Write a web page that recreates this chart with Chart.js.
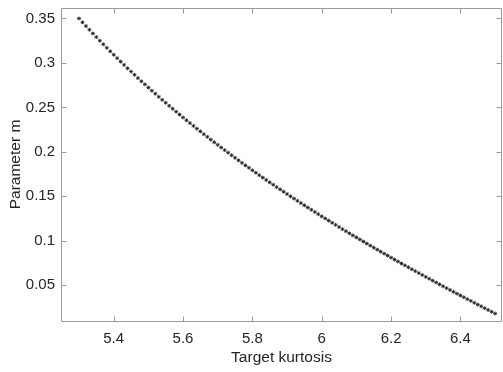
<!DOCTYPE html>
<html>
<head>
<meta charset="utf-8">
<script src="https://cdn.jsdelivr.net/npm/chart.js@4/dist/chart.umd.min.js"></script>
<style>
  body { margin: 0; background: #fff; }
  #wrap { width: 503px; height: 372px; }
</style>
</head>
<body>
<div id="wrap"><canvas id="kurtChart" width="503" height="372"></canvas></div>
<script>
// target kurtosis values
const kurtosis = [
  5.30, 5.31, 5.32, 5.33, 5.34, 5.35, 5.36, 5.37, 5.38, 5.39,
  5.40, 5.41, 5.42, 5.43, 5.44, 5.45, 5.46, 5.47, 5.48, 5.49,
  5.50, 5.51, 5.52, 5.53, 5.54, 5.55, 5.56, 5.57, 5.58, 5.59,
  5.60, 5.61, 5.62, 5.63, 5.64, 5.65, 5.66, 5.67, 5.68, 5.69,
  5.70, 5.71, 5.72, 5.73, 5.74, 5.75, 5.76, 5.77, 5.78, 5.79,
  5.80, 5.81, 5.82, 5.83, 5.84, 5.85, 5.86, 5.87, 5.88, 5.89,
  5.90, 5.91, 5.92, 5.93, 5.94, 5.95, 5.96, 5.97, 5.98, 5.99,
  6.00, 6.01, 6.02, 6.03, 6.04, 6.05, 6.06, 6.07, 6.08, 6.09,
  6.10, 6.11, 6.12, 6.13, 6.14, 6.15, 6.16, 6.17, 6.18, 6.19,
  6.20, 6.21, 6.22, 6.23, 6.24, 6.25, 6.26, 6.27, 6.28, 6.29,
  6.30, 6.31, 6.32, 6.33, 6.34, 6.35, 6.36, 6.37, 6.38, 6.39,
  6.40, 6.41, 6.42, 6.43, 6.44, 6.45, 6.46, 6.47, 6.48, 6.49,
  6.50
];

// parameter m for each kurtosis
const paramM = [
  0.3500, 0.3457, 0.3415, 0.3373, 0.3332, 0.3291, 0.3250, 0.3210, 0.3170, 0.3131,
  0.3092, 0.3054, 0.3015, 0.2978, 0.2940, 0.2903, 0.2867, 0.2830, 0.2794, 0.2759,
  0.2723, 0.2688, 0.2654, 0.2619, 0.2585, 0.2552, 0.2518, 0.2485, 0.2452, 0.2420,
  0.2387, 0.2355, 0.2324, 0.2292, 0.2261, 0.2230, 0.2199, 0.2169, 0.2138, 0.2108,
  0.2079, 0.2049, 0.2020, 0.1991, 0.1962, 0.1933, 0.1905, 0.1876, 0.1848, 0.1821,
  0.1793, 0.1765, 0.1738, 0.1711, 0.1684, 0.1657, 0.1631, 0.1604, 0.1578, 0.1552,
  0.1526, 0.1500, 0.1475, 0.1449, 0.1424, 0.1399, 0.1374, 0.1349, 0.1324, 0.1300,
  0.1275, 0.1251, 0.1227, 0.1203, 0.1179, 0.1155, 0.1131, 0.1108, 0.1084, 0.1061,
  0.1038, 0.1015, 0.0992, 0.0969, 0.0946, 0.0923, 0.0901, 0.0878, 0.0856, 0.0834,
  0.0811, 0.0789, 0.0767, 0.0745, 0.0724, 0.0702, 0.0680, 0.0659, 0.0637, 0.0616,
  0.0594, 0.0573, 0.0552, 0.0531, 0.0510, 0.0489, 0.0468, 0.0447, 0.0426, 0.0406,
  0.0385, 0.0365, 0.0344, 0.0324, 0.0303, 0.0283, 0.0263, 0.0242, 0.0222, 0.0202,
  0.0182
];

const xTicks = [5.4, 5.6, 5.8, 6.0, 6.2, 6.4];
const yTicks = [0.05, 0.1, 0.15, 0.2, 0.25, 0.3, 0.35];

const axisColor = '#9a9a9a';
const textColor = '#262626';
const fontFamily = '"Liberation Sans", Arial, sans-serif';

const points = kurtosis.map((k, i) => ({ x: k, y: paramM[i] }));

// box around the axes with inward tick marks on all four sides
const boxTicks = {
  id: 'boxTicks',
  beforeDatasetsDraw(chart) {
    const ctx = chart.ctx;
    const a = chart.chartArea;
    const xs = chart.scales.x;
    const ys = chart.scales.y;
    const len = 5;
    const l = Math.round(a.left) + 0.5, r = Math.round(a.right) - 0.5;
    const t = Math.round(a.top) + 0.5, b = Math.round(a.bottom) + 0.5;
    ctx.save();
    ctx.strokeStyle = axisColor;
    ctx.lineWidth = 1;
    ctx.beginPath();
    ctx.rect(l, t, r - l, b - t);
    xTicks.forEach(v => {
      const px = Math.round(xs.getPixelForValue(v)) + 0.5;
      ctx.moveTo(px, b); ctx.lineTo(px, b - len);
      ctx.moveTo(px, t); ctx.lineTo(px, t + len);
    });
    yTicks.forEach(v => {
      const py = Math.round(ys.getPixelForValue(v)) + 0.5;
      ctx.moveTo(l, py); ctx.lineTo(l + len, py);
      ctx.moveTo(r, py); ctx.lineTo(r - len, py);
    });
    ctx.stroke();
    ctx.restore();
  }
};

const fmt = v => String(Math.round(v * 100) / 100);

new Chart(document.getElementById('kurtChart'), {
  type: 'scatter',
  data: {
    datasets: [{
      data: points,
      showLine: false,
      pointStyle: 'star',
      pointRadius: 1.9,
      pointBorderWidth: 1,
      pointBorderColor: '#2a2a2a',
      pointBackgroundColor: '#2a2a2a'
    }]
  },
  options: {
    responsive: false,
    animation: false,
    layout: { autoPadding: false, padding: { top: 0, right: 1, left: 0, bottom: 0 } },
    plugins: {
      legend: { display: false },
      tooltip: { enabled: false }
    },
    scales: {
      x: {
        type: 'linear',
        min: 5.248,
        max: 6.52,
        afterFit: s => { s.height = 51; s.paddingLeft = 0; s.paddingRight = 0; },
        afterBuildTicks: s => { s.ticks = xTicks.map(v => ({ value: v })); },
        grid: { display: false, drawTicks: false },
        border: { display: false },
        ticks: {
          padding: 9,
          color: textColor,
          font: { family: fontFamily, size: 15 },
          callback: fmt,
          maxRotation: 0
        },
        title: {
          display: true,
          text: 'Target kurtosis',
          color: textColor,
          font: { family: fontFamily, size: 15.5 },
          padding: { top: 0, bottom: 5 }
        }
      },
      y: {
        type: 'linear',
        min: 0.0098,
        max: 0.3618,
        afterFit: s => { s.width = 61; s.paddingTop = 8; s.paddingBottom = 0; },
        afterBuildTicks: s => { s.ticks = yTicks.map(v => ({ value: v })); },
        grid: { display: false, drawTicks: false },
        border: { display: false },
        ticks: {
          padding: 6,
          color: textColor,
          font: { family: fontFamily, size: 15, lineHeight: 1 },
          callback: fmt
        },
        title: {
          display: true,
          text: 'Parameter m',
          color: textColor,
          font: { family: fontFamily, size: 15.5 },
          padding: { top: 6, bottom: 0 }
        }
      }
    }
  },
  plugins: [boxTicks]
});
</script>
</body>
</html>
